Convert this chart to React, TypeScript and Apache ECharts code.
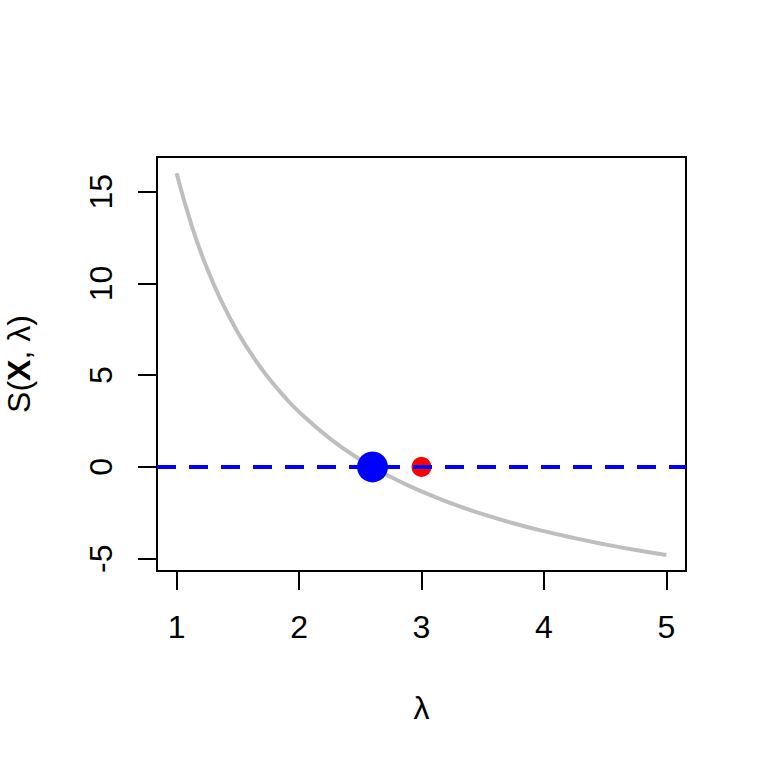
import React, { useEffect, useRef } from "react";
import * as echarts from "echarts";

const lambdaValues = [1, 1.125, 1.25, 1.375, 1.5, 1.625, 1.75, 1.875, 2, 2.25, 2.5, 2.75, 3, 3.25, 3.5, 3.75, 4, 4.25, 4.5, 4.75, 5];
const scoreValues = [16, 13.11, 10.8, 8.91, 7.33, 6.0, 4.86, 3.87, 3, 1.56, 0.4, -0.55, -1.33, -2, -2.57, -3.07, -3.5, -3.88, -4.22, -4.53, -4.8];
const rootPoint = [2.6, 0];
const truePoint = [3, 0];
const zeroLineX = [0.84, 5.16];
const zeroLineY = [0, 0];
const xTicks = [1, 2, 3, 4, 5];
const yTicks = [-5, 0, 5, 10, 15];

const FONT = "Liberation Sans, Arial, sans-serif";
const FS = 32;

export default function App() {
  const ref = useRef<HTMLDivElement>(null);
  useEffect(() => {
    if (!ref.current) return;
    const chart = echarts.init(ref.current, undefined, { renderer: "svg" });
    chart.setOption({
      animation: false,
      backgroundColor: "#ffffff",
      grid: {
        left: 157,
        right: 82,
        top: 157,
        bottom: 197,
        show: true,
        borderColor: "#000000",
        borderWidth: 2,
        backgroundColor: "transparent",
        outerBoundsMode: "none",
        containLabel: false,
      },
      xAxis: {
        type: "value",
        min: 0.84,
        max: 5.16,
        name: "λ",
        nameLocation: "middle",
        nameGap: 121,
        nameTextStyle: { fontFamily: FONT, fontSize: FS, color: "#000" },
        axisLine: { show: false, onZero: false },
        splitLine: { show: false },
        axisTick: {
          show: true,
          inside: false,
          length: 19,
          customValues: xTicks,
          lineStyle: { color: "#000", width: 2 },
        },
        axisLabel: {
          customValues: xTicks,
          margin: 40,
          fontFamily: FONT,
          fontSize: FS,
          color: "#000",
        },
      },
      yAxis: {
        type: "value",
        min: -5.67,
        max: 16.89,
        name: "{a|S(}{b|X}{a|, λ)}",
        nameLocation: "middle",
        nameGap: 122,
        nameRotate: 90,
        nameTextStyle: {
          fontFamily: FONT,
          fontSize: FS,
          color: "#000",
          rich: {
            a: { fontFamily: FONT, fontSize: FS, color: "#000" },
            b: { fontFamily: FONT, fontSize: FS, fontWeight: "bold", color: "#000" },
          },
        },
        axisLine: { show: false, onZero: false },
        splitLine: { show: false },
        axisTick: {
          show: true,
          inside: false,
          length: 19,
          customValues: yTicks,
          lineStyle: { color: "#000", width: 2 },
        },
        axisLabel: {
          customValues: yTicks,
          rotate: 90,
          margin: 40,
          fontFamily: FONT,
          fontSize: FS,
          color: "#000",
        },
      },
      series: [
        {
          type: "line",
          data: lambdaValues.map((x, i) => [x, scoreValues[i]]),
          smooth: 0.5,
          showSymbol: false,
          symbol: "none",
          lineStyle: { color: "#BEBEBE", width: 4 },
          z: 2,
        },
        {
          type: "scatter",
          data: [truePoint],
          symbol: "circle",
          symbolSize: 20,
          itemStyle: { color: "#FF0000", opacity: 1 },
          z: 3,
        },
        {
          type: "line",
          data: zeroLineX.map((x, i) => [x, zeroLineY[i]]),
          showSymbol: false,
          symbol: "none",
          lineStyle: { color: "#0000FF", width: 4, type: [19, 13] },
          z: 4,
        },
        {
          type: "scatter",
          data: [rootPoint],
          symbol: "circle",
          symbolSize: 31,
          itemStyle: { color: "#0000FF", opacity: 1 },
          z: 5,
        },
      ],
    });
    return () => chart.dispose();
  }, []);
  return (
    <div
      ref={ref}
      style={{ position: "fixed", left: 0, top: 0, width: 768, height: 768, background: "#fff" }}
    />
  );
}
